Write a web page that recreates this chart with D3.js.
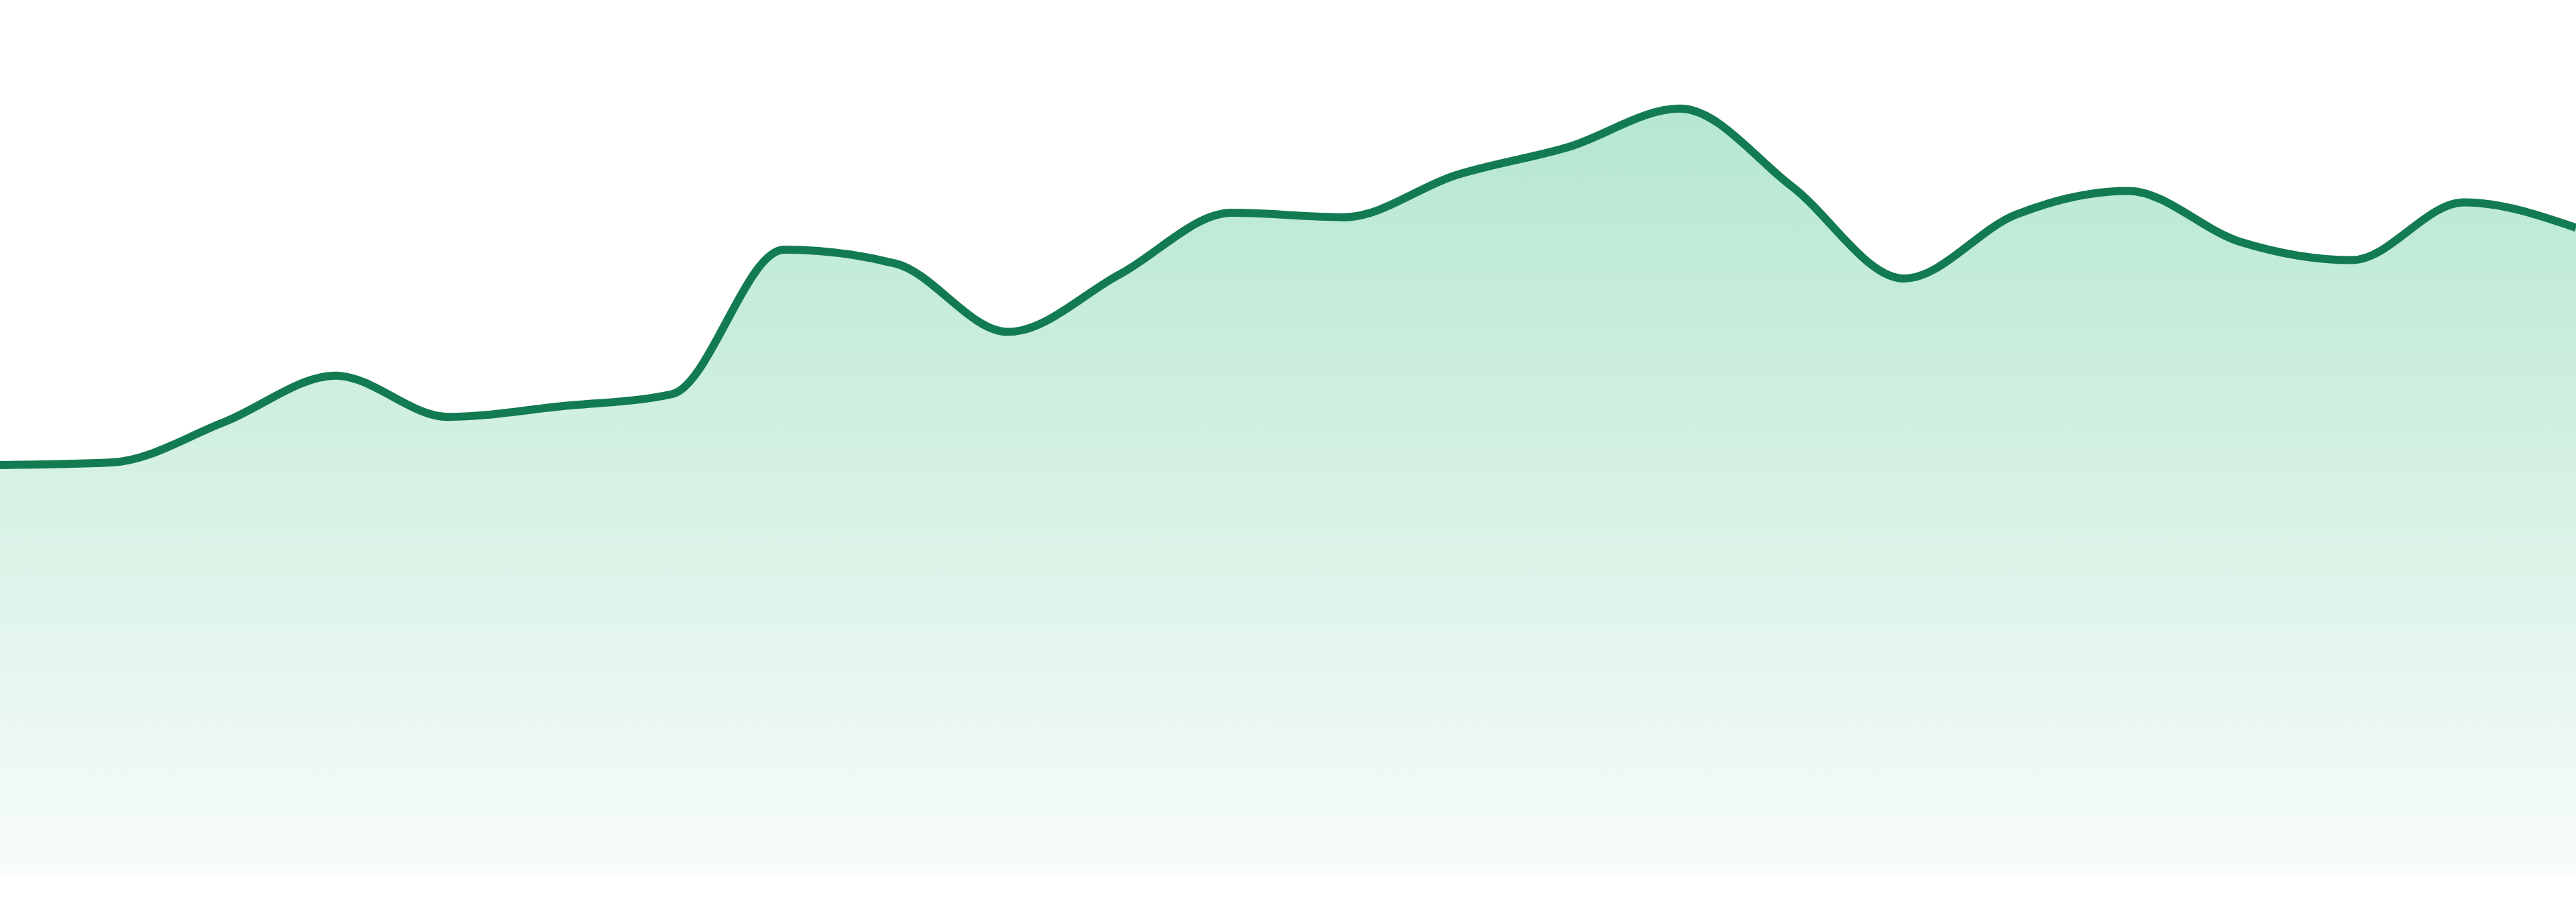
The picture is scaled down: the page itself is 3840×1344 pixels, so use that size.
<!DOCTYPE html>
<html>
<head>
<meta charset="utf-8">
<script src="https://cdn.jsdelivr.net/npm/d3@7"></script>
<style>
  html, body { margin: 0; padding: 0; background: #ffffff; overflow: hidden; }
  svg { display: block; }
</style>
</head>
<body>
<svg id="chart"></svg>
<script>
// Data
const categories = d3.range(1, 25).map(d => "P" + d);
const values = [46.9, 47.2, 51.8, 57.1, 52.4, 53.6, 55.0, 71.5, 69.9, 62.1, 68.7, 75.7,
                75.2, 80.0, 83.2, 87.6, 78.7, 68.2, 75.5, 78.2, 72.4, 70.3, 76.9, 74.0];
const yDomain = [0, 100];

const W = 3840, H = 1344;
const baseline = 1305;

const svg = d3.select("#chart").attr("width", W).attr("height", H);

const x = d3.scalePoint().domain(categories).range([0, W]);
const y = d3.scaleLinear().domain(yDomain).range([baseline, 0]);

const data = categories.map((c, i) => ({ c, v: values[i] }));

const defs = svg.append("defs");
const grad = defs.append("linearGradient")
  .attr("id", "fillGrad")
  .attr("gradientUnits", "userSpaceOnUse")
  .attr("x1", 0).attr("x2", 0)
  .attr("y1", y(d3.max(values)))
  .attr("y2", baseline);
grad.append("stop").attr("offset", "0%").attr("stop-color", "#b5e7d0");
grad.append("stop").attr("offset", "100%").attr("stop-color", "#f8fcfa");

const area = d3.area()
  .x(d => x(d.c))
  .y0(y(0))
  .y1(d => y(d.v))
  .curve(d3.curveMonotoneX);

const line = d3.line()
  .x(d => x(d.c))
  .y(d => y(d.v))
  .curve(d3.curveMonotoneX);

svg.append("path")
  .datum(data)
  .attr("d", area)
  .attr("fill", "url(#fillGrad)");

svg.append("path")
  .datum(data)
  .attr("d", line)
  .attr("fill", "none")
  .attr("stroke", "#137b52")
  .attr("stroke-width", 12)
  .attr("stroke-linejoin", "round");
</script>
</body>
</html>
